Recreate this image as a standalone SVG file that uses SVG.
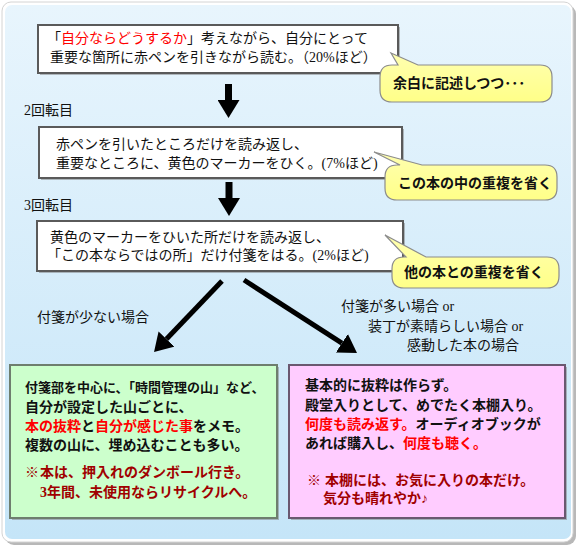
<svg xmlns="http://www.w3.org/2000/svg" width="580" height="548" viewBox="0 0 580 548">
<defs>
<linearGradient id="bg" x1="0" y1="0" x2="0" y2="1">
<stop offset="0" stop-color="#E8F5FD"/>
<stop offset="1" stop-color="#C5E5F8"/>
</linearGradient>
<linearGradient id="yg" x1="0" y1="0" x2="0" y2="1">
<stop offset="0" stop-color="#FFFFB0"/>
<stop offset="1" stop-color="#FFFF88"/>
</linearGradient>
<marker id="ah" viewBox="0 0 18 22" markerWidth="18" markerHeight="22" refX="0" refY="11" orient="auto" markerUnits="userSpaceOnUse">
<path d="M0,0 L18,11 L0,22 Z" fill="#000"/>
</marker>
</defs>
<style>
text{font-family:"Liberation Serif","Noto Sans CJK JP",serif;font-size:14px;fill:#111;}
.b{font-weight:bold}
.r{fill:#FF0000}
.dr{fill:#A00000}
.box{fill:#FFFFFF;stroke:#5A5A5A;stroke-width:2}
.sh{fill:#7A7A7A;opacity:0.5}
.call{fill:url(#yg);stroke:#8C8C8C;stroke-width:1.2}
.arr{stroke:#000;fill:none}
</style>
<g id="frame">
<rect x="5" y="5" width="571" height="540" rx="9" fill="#B8B8B8"/>
<rect x="2" y="2" width="571" height="540" rx="9" fill="#FFFFFF" stroke="#D4D4D4" stroke-width="1"/>
<rect x="5" y="5" width="566" height="534" rx="7" fill="url(#bg)"/>
</g>
<g id="connectors">
<line class="arr" x1="228.5" y1="84" x2="228.5" y2="100" stroke-width="7" marker-end="url(#ah)"/>
<line class="arr" x1="229" y1="182" x2="229" y2="198" stroke-width="7" marker-end="url(#ah)"/>
<line class="arr" x1="222" y1="281" x2="166.5" y2="339" stroke-width="5" marker-end="url(#ah)"/>
<line class="arr" x1="244" y1="280" x2="341.9" y2="343.2" stroke-width="5" marker-end="url(#ah)"/>
</g>
<g id="step1">
<rect class="sh" x="40" y="27" width="360" height="48"/>
<rect class="box" x="38" y="25" width="360" height="48"/>
<text x="47" y="43">「<tspan class="r">自分ならどうするか</tspan>」考えながら、自分にとって</text>
<text x="50" y="62">重要な箇所に赤ペンを引きながら読む。（20%ほど）</text>
</g>
<g id="note1">
<path class="call" d="M392,65 L398,65 L391,53 L418,65 L540,65 Q552,65 552,77 L552,90 Q552,102 540,102 L392,102 Q380,102 380,90 L380,77 Q380,65 392,65 Z"/>
<text class="b" x="393" y="88">余白に記述しつつ･･･</text>
</g>
<text id="lbl2" x="24" y="115">2回転目</text>
<g id="step2">
<rect class="sh" x="41" y="129" width="363" height="51"/>
<rect class="box" x="39" y="127" width="363" height="51"/>
<text x="56" y="149">赤ペンを引いたところだけを読み返し、</text>
<text x="56" y="168">重要なところに、黄色のマーカーをひく。(7%ほど)</text>
</g>
<g id="note2">
<path class="call" d="M397,165 L400,165 L374,152 L422,165 L545,165 Q557,165 557,177 L557,188 Q557,200 545,200 L397,200 Q385,200 385,188 L385,177 Q385,165 397,165 Z"/>
<text class="b" x="398" y="188">この本の中の重複を省く</text>
</g>
<text id="lbl3" x="24" y="210">3回転目</text>
<g id="step3">
<rect class="sh" x="39" y="223" width="366" height="50"/>
<rect class="box" x="37" y="221" width="366" height="50"/>
<text x="50" y="242">黄色のマーカーをひいた所だけを読み返し、</text>
<text x="47" y="260">「この本ならではの所」だけ付箋をはる。(2%ほど)</text>
</g>
<g id="note3">
<path class="call" d="M404,257 L406,257 L385,235 L426,257 L547,257 Q559,257 559,269 L559,276 Q559,288 547,288 L404,288 Q392,288 392,276 L392,269 Q392,257 404,257 Z"/>
<text class="b" x="404" y="277">他の本との重複を省く</text>
</g>
<g id="labels">
<text x="37" y="322">付箋が少ない場合</text>
<text x="341" y="311">付箋が多い場合 or</text>
<text x="368" y="331">装丁が素晴らしい場合 or</text>
<text x="407" y="350">感動した本の場合</text>
</g>
<g id="few">
<rect class="sh" x="12" y="367" width="267" height="153"/>
<rect x="10" y="365" width="267" height="153" fill="#CCFFCC" stroke="#6E7E6E" stroke-width="2"/>
<text class="b" x="25" y="392" style="font-size:13px">付箋部を中心に、「時間管理の山」など、</text>
<text class="b" x="25" y="412">自分が設定した山ごとに、</text>
<text class="b" x="25" y="431"><tspan class="r">本の抜粋</tspan>と<tspan class="r">自分が感じた事</tspan>をメモ。</text>
<text class="b" x="25" y="450">複数の山に、埋め込むことも多い。</text>
<text class="b dr" x="25" y="477">※<tspan x="40">本は、押入れのダンボール行き。</tspan></text>
<text class="b dr" x="40" y="497">3年間、未使用ならリサイクルへ。</text>
</g>
<g id="many">
<rect class="sh" x="291" y="367" width="276" height="153"/>
<rect x="289" y="365" width="276" height="153" fill="#FFCCFF" stroke="#6A5870" stroke-width="2"/>
<text class="b" x="305" y="390">基本的に抜粋は作らず。</text>
<text class="b" x="305" y="410">殿堂入りとして、めでたく本棚入り。</text>
<text class="b" x="305" y="429"><tspan class="r">何度も読み返す。</tspan>オーディオブックが</text>
<text class="b" x="305" y="448">あれば購入し、<tspan class="r">何度も聴く。</tspan></text>
<text class="b dr" x="307" y="485">※<tspan x="325">本棚には、お気に入りの本だけ。</tspan></text>
<text class="b dr" x="323" y="503">気分も晴れやか♪</text>
</g>
</svg>
